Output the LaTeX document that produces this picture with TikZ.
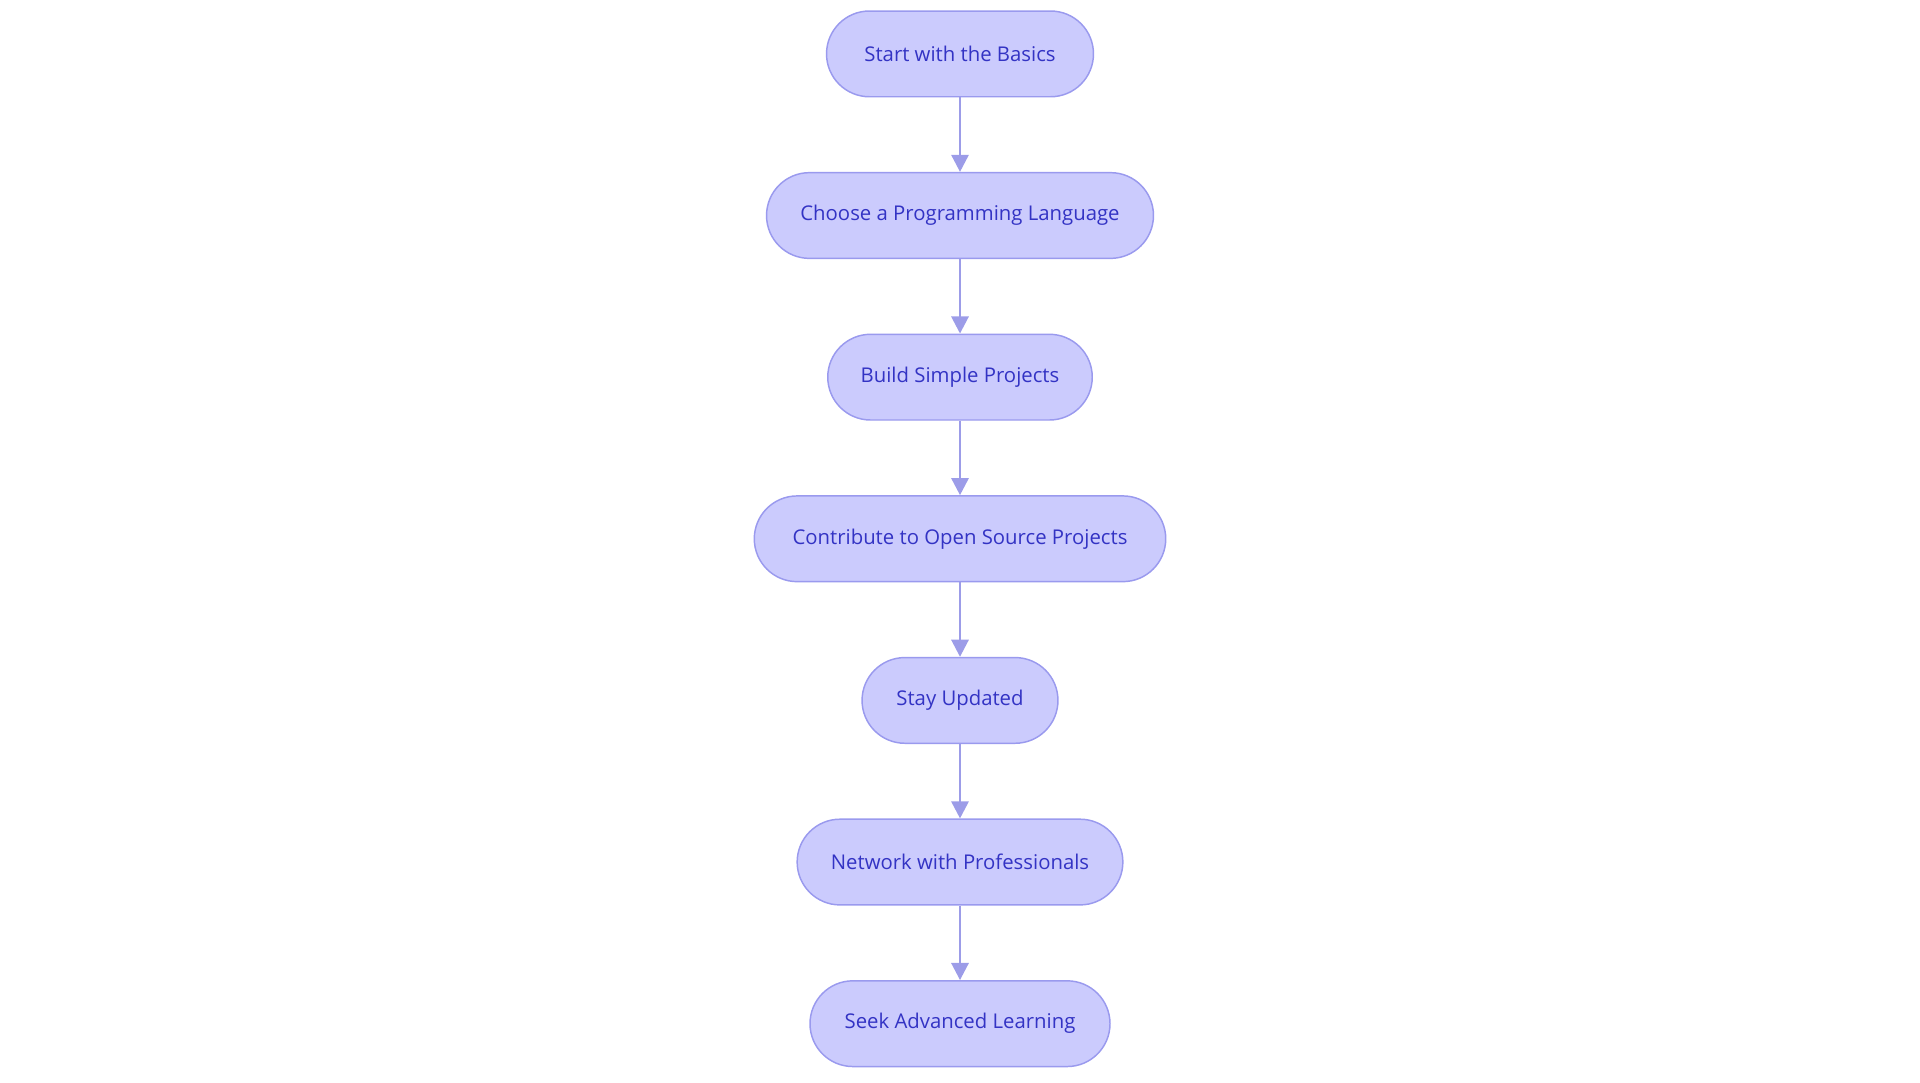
\documentclass[tikz,border=0pt]{standalone}
\usepackage{fontspec}
\setmainfont{Open Sans}
\usetikzlibrary{arrows.meta}
\definecolor{nfill}{HTML}{CBCBFD}
\definecolor{nline}{HTML}{9A9AEE}
\definecolor{ntext}{HTML}{3333C4}
\definecolor{aline}{HTML}{9C9CE8}
\begin{document}
\begin{tikzpicture}[x=0.5pt,y=-0.5pt,
  stepbox/.style={draw=nline,fill=nfill,text=ntext,rounded corners=17.5pt,minimum height=35pt,inner sep=0pt,font=\fontsize{8.3}{10}\selectfont,line width=0.6pt},
  arr/.style={draw=aline,line width=1.1pt,-{Triangle[length=7pt,width=7pt]}}]
\useasboundingbox (0,0) rectangle (1568,884);
\node[stepbox,minimum width=109pt] (a) at (784,44) {Start with the Basics};
\node[stepbox,minimum width=158pt] (b) at (784,176) {Choose a Programming Language};
\node[stepbox,minimum width=108pt] (c) at (784,308) {Build Simple Projects};
\node[stepbox,minimum width=168pt] (d) at (784,440) {Contribute to Open Source Projects};
\node[stepbox,minimum width=80pt] (e) at (784,572) {Stay Updated};
\node[stepbox,minimum width=133pt] (f) at (784,704) {Network with Professionals};
\node[stepbox,minimum width=122.5pt] (g) at (784,836) {Seek Advanced Learning};
\foreach \u/\v in {a/b,b/c,c/d,d/e,e/f,f/g} \draw[arr] (\u) -- (\v);
\end{tikzpicture}
\end{document}
